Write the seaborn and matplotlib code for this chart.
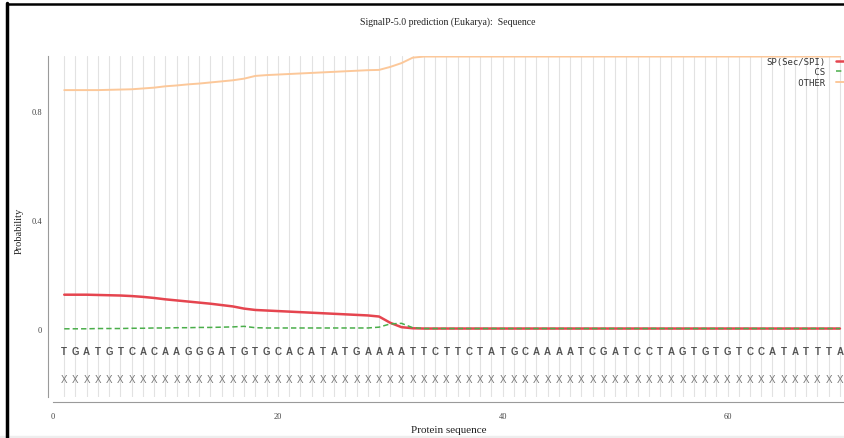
import numpy as np
import pandas as pd
import matplotlib
matplotlib.use("Agg")
import matplotlib.pyplot as plt
import seaborn as sns
from matplotlib.lines import Line2D
from matplotlib.patches import Rectangle

# sequence shown under the curves (positions 1..70)
sequence = list("TGATGTCACAAGGGATGTGCACATATGAAAATTCTTCTATGCAAAATCGATCCTAGTGTGTCCATATTTA")
positions = np.arange(1, len(sequence) + 1)

# SP(Sec/SPI) probability per position
sp_values = [0.125, 0.125, 0.125, 0.124, 0.123, 0.122, 0.120, 0.117, 0.113, 0.108,
             0.104, 0.100, 0.096, 0.092, 0.087, 0.082, 0.074, 0.069, 0.067, 0.065,
             0.063, 0.061, 0.059, 0.057, 0.055, 0.053, 0.051, 0.049, 0.045, 0.022,
             0.006, 0.002] + [0.001] * 38
# CS probability per position
cs_values = [0.000, 0.000, 0.000, 0.001, 0.001, 0.001, 0.002, 0.002, 0.003, 0.003,
             0.004, 0.004, 0.005, 0.005, 0.006, 0.007, 0.009, 0.004, 0.003, 0.003,
             0.003, 0.003, 0.003, 0.003, 0.003, 0.003, 0.003, 0.003, 0.006, 0.018,
             0.020, 0.004] + [0.001] * 38
# OTHER probability per position
other_values = [0.875, 0.875, 0.875, 0.875, 0.876, 0.877, 0.878, 0.881, 0.884, 0.889,
                0.892, 0.896, 0.899, 0.903, 0.907, 0.911, 0.917, 0.927, 0.930, 0.932,
                0.934, 0.936, 0.938, 0.940, 0.942, 0.944, 0.946, 0.948, 0.949, 0.960,
                0.974, 0.994] + [0.998] * 38

y_ticks = [-0.2, 0.0, 0.2, 0.4, 0.6, 0.8, 1.0]
y_ticklabels = ["", "0", "", "0.4", "", "0.8", ""]
x_major = [0, 20, 40, 60]
x_minor = [10, 30, 50, 70]

sns.set_style("white")
serif = ["Liberation Serif", "DejaVu Serif"]
sans = ["Liberation Sans", "DejaVu Sans"]

fig = plt.figure(figsize=(8.45, 4.39), dpi=100)
ax = fig.add_axes([53 / 845, 41 / 439, 1 - 53 / 845, 341 / 439])

# light vertical grid, one line per residue
for p in positions:
    ax.axvline(p, color="#e2e2e2", lw=0.8, zorder=0)

sns.lineplot(x=positions, y=other_values, ax=ax, color="#fcc89a", lw=1.4,
             label="      OTHER", zorder=3)
sns.lineplot(x=positions, y=sp_values, ax=ax, color="#e5454f", lw=1.8,
             label="SP(Sec/SPI)", zorder=4)
sns.lineplot(x=positions, y=cs_values, ax=ax, color="#4aae4a", lw=1.1,
             label="         CS", zorder=5)
ax.lines[-1].set_dashes([3.5, 2])

# residues and the "X" row
for p, aa in zip(positions, sequence):
    ax.text(p, -0.08, aa, ha="center", va="center", fontsize=7,
            fontweight="bold", color="#555555", family=sans)
    ax.text(p, -0.183, "X", ha="center", va="center", fontsize=7,
            color="#777777", family=sans)

ax.set_xlim(0, 70.45)
ax.set_ylim(-0.25, 1.0)

sns.despine(ax=ax)
ax.spines["left"].set_position(("outward", 3.6))
ax.spines["bottom"].set_position(("outward", 3.6))
ax.spines["bottom"].set_bounds(0, 70.45)
for s in ["left", "bottom"]:
    ax.spines[s].set_color("#9a9a9a")
    ax.spines[s].set_linewidth(0.8)

ax.set_yticks(y_ticks)
ax.set_yticklabels(y_ticklabels, family=serif, fontsize=6, color="#444444")
ax.tick_params(axis="y", direction="out", length=3, width=0.7, color="#9a9a9a", pad=1.5)
ax.set_xticks(x_major)
ax.set_xticklabels([str(v) for v in x_major], family=serif, fontsize=6, color="#444444")
ax.set_xticks(x_minor, minor=True)
ax.tick_params(axis="x", which="major", direction="inout", length=6, width=0.7,
               color="#9a9a9a", pad=4)
ax.tick_params(axis="x", which="minor", direction="in", length=3, width=0.7,
               color="#9a9a9a")

ax.set_ylabel("Probability", family=serif, fontsize=7.5, color="#222222")
ax.yaxis.set_label_coords(-0.037, 0.49)
ax.set_xlabel("Protein sequence", family=serif, fontsize=8, color="#222222")
ax.xaxis.set_label_coords(0.5, -0.083)

fig.text(448 / 845, 1 - 22 / 439, "SignalP-5.0 prediction (Eukarya):  Sequence",
         ha="center", va="center", family=serif, fontsize=7, color="#222222")

handles, labels = ax.get_legend_handles_labels()
order = [1, 2, 0]
leg = ax.legend([handles[i] for i in order], [labels[i] for i in order],
                loc="upper right", bbox_to_anchor=(1.012, 0.997), markerfirst=False,
                frameon=False, prop={"family": "DejaVu Sans Mono", "size": 6.5},
                handlelength=2.0, handletextpad=1.2, labelspacing=0.15,
                borderpad=0, borderaxespad=0)
for t in leg.get_texts():
    t.set_color("#333333")

# page frame
fig.add_artist(Line2D([7.5 / 845, 7.5 / 845], [0, 1 - 4 / 439], color="black", lw=2.5,
                      transform=fig.transFigure))
fig.add_artist(Line2D([7.5 / 845, 1], [1 - 5 / 439, 1 - 5 / 439], color="black", lw=1.8,
                      transform=fig.transFigure))
fig.add_artist(Rectangle((0, 0), 1, 2.5 / 439, color="#eeeeee",
                         transform=fig.transFigure, zorder=0))

fig.savefig("out.png", dpi=100)
